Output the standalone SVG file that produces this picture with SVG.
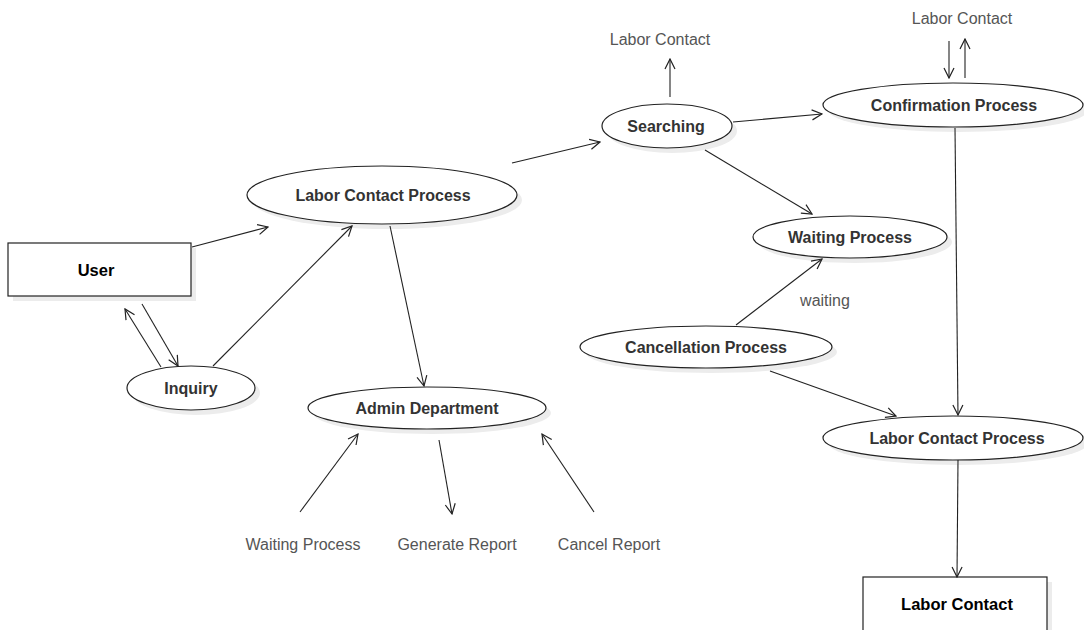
<svg xmlns="http://www.w3.org/2000/svg" width="1084" height="630" viewBox="0 0 1084 630">
<defs>
<marker id="arr" viewBox="0 0 12 12" refX="11" refY="6" markerWidth="12" markerHeight="12" markerUnits="userSpaceOnUse" orient="auto">
<path d="M1,1 L11,6 L1,11" fill="none" stroke="#222" stroke-width="1.2"/>
</marker>
</defs>
<style>
.sh{fill:#ececec;stroke:none}
.el{fill:#fff;stroke:#222;stroke-width:1.2}
.bx{fill:#fff;stroke:#222;stroke-width:1.2}
.t{font-family:"Liberation Sans",Arial,sans-serif;font-weight:bold;font-size:16px;fill:#333;text-anchor:middle}
.tb{font-family:"Liberation Sans",Arial,sans-serif;font-weight:bold;font-size:16.5px;fill:#000;text-anchor:middle}
.lb{font-family:"Liberation Sans",Arial,sans-serif;font-size:16px;fill:#555;text-anchor:middle}
.c{stroke:#222;stroke-width:1.1;fill:none;marker-end:url(#arr)}
</style>
<rect width="1084" height="630" fill="#fff"/>

<g id="user">
<rect class="sh" x="13" y="248" width="183" height="53"/>
<rect class="bx" x="8" y="243" width="183" height="53"/>
<text class="tb" x="96" y="276">User</text>
</g>
<g id="inquiry">
<ellipse class="sh" cx="196" cy="393" rx="64" ry="22"/>
<ellipse class="el" cx="191" cy="388" rx="64" ry="22"/>
<text class="t" x="191" y="394">Inquiry</text>
</g>
<g id="labor-contact-process-left">
<ellipse class="sh" cx="387" cy="200" rx="135" ry="29"/>
<ellipse class="el" cx="382" cy="195" rx="135" ry="29"/>
<text class="t" x="383" y="201">Labor Contact Process</text>
</g>
<g id="searching">
<ellipse class="sh" cx="672" cy="131" rx="65" ry="22"/>
<ellipse class="el" cx="667" cy="126" rx="65" ry="22"/>
<text class="t" x="666" y="132">Searching</text>
</g>
<g id="confirmation-process">
<ellipse class="sh" cx="958" cy="110" rx="130" ry="22"/>
<ellipse class="el" cx="953" cy="105" rx="130" ry="22"/>
<text class="t" x="954" y="111">Confirmation Process</text>
</g>
<g id="waiting-process">
<ellipse class="sh" cx="855" cy="242" rx="97" ry="21"/>
<ellipse class="el" cx="850" cy="237" rx="97" ry="21"/>
<text class="t" x="850" y="243">Waiting Process</text>
</g>
<g id="cancellation-process">
<ellipse class="sh" cx="711" cy="352" rx="126" ry="21"/>
<ellipse class="el" cx="706" cy="347" rx="126" ry="21"/>
<text class="t" x="706" y="353">Cancellation Process</text>
</g>
<g id="labor-contact-process-right">
<ellipse class="sh" cx="958" cy="443" rx="130" ry="22"/>
<ellipse class="el" cx="953" cy="438" rx="130" ry="22"/>
<text class="t" x="957" y="444">Labor Contact Process</text>
</g>
<g id="admin-department">
<ellipse class="sh" cx="432" cy="413" rx="119" ry="21"/>
<ellipse class="el" cx="427" cy="408" rx="119" ry="21"/>
<text class="t" x="427" y="414">Admin Department</text>
</g>
<g id="labor-contact-box">
<rect class="sh" x="868" y="582" width="184" height="60"/>
<rect class="bx" x="863" y="577" width="184" height="60"/>
<text class="tb" x="957" y="610">Labor Contact</text>
</g>

<g id="labels">
<text class="lb" x="660" y="45">Labor Contact</text>
<text class="lb" x="962" y="24">Labor Contact</text>
<text class="lb" x="825" y="306">waiting</text>
<text class="lb" x="303" y="550">Waiting Process</text>
<text class="lb" x="457" y="550">Generate Report</text>
<text class="lb" x="609" y="550">Cancel Report</text>
</g>

<g id="connectors">
<line class="c" x1="192" y1="247" x2="268" y2="227"/>
<line class="c" x1="142" y1="304" x2="178" y2="366"/>
<line class="c" x1="161" y1="367" x2="125" y2="309"/>
<line class="c" x1="213" y1="366" x2="352" y2="226"/>
<line class="c" x1="512" y1="163" x2="600" y2="142"/>
<line class="c" x1="670" y1="97" x2="670" y2="59"/>
<line class="c" x1="733" y1="122" x2="822" y2="114"/>
<line class="c" x1="949" y1="41" x2="949" y2="78"/>
<line class="c" x1="965" y1="78" x2="965" y2="39"/>
<line class="c" x1="705" y1="150" x2="812" y2="214"/>
<line class="c" x1="736" y1="325" x2="822" y2="259"/>
<line class="c" x1="770" y1="371" x2="896" y2="416"/>
<line class="c" x1="955" y1="128" x2="958" y2="415"/>
<line class="c" x1="958" y1="460" x2="957" y2="577"/>
<line class="c" x1="390" y1="226" x2="424" y2="386"/>
<line class="c" x1="300" y1="512" x2="358" y2="434"/>
<line class="c" x1="439" y1="440" x2="452" y2="514"/>
<line class="c" x1="594" y1="512" x2="542" y2="434"/>
</g>
</svg>
